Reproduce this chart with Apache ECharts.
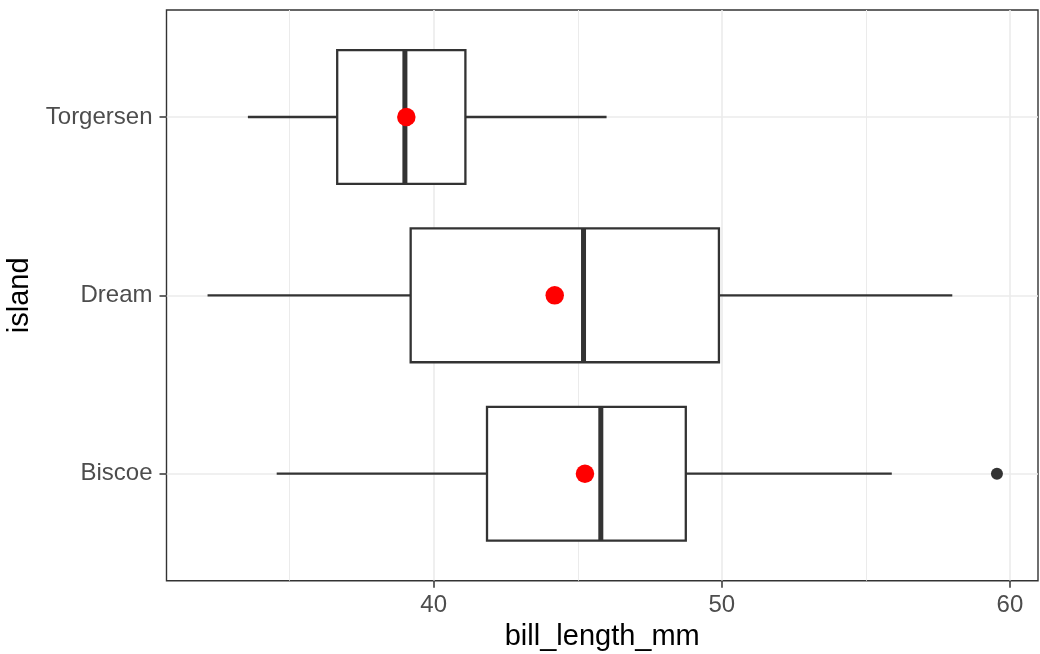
<!DOCTYPE html>
<html>
<head>
<meta charset="utf-8">
<script src="https://cdn.jsdelivr.net/npm/echarts@6/dist/echarts.min.js"></script>
<style>
html,body{margin:0;padding:0;background:#fff;}
#chart{width:1040px;height:654px;}
</style>
</head>
<body>
<div id="chart"></div>
<script>
// ---- data ----
const islands = ['Biscoe', 'Dream', 'Torgersen'];
const whiskerLow = [34.55, 32.15, 33.55];
const q1 = [41.85, 39.2, 36.65];
const median = [45.8, 45.2, 39.0];
const q3 = [48.75, 49.9, 41.1];
const whiskerHigh = [55.9, 58.0, 46.0];
const means = [45.25, 44.2, 39.05];
const outlierIsland = ['Biscoe'];
const outlierValue = [59.55];
const xTickValues = [40, 50, 60];
const xMinorValues = [35, 45, 55];
const xTitle = 'bill_length_mm';
const yTitle = 'island';

// ---- build ----
const FONT = '"Liberation Sans", Arial, sans-serif';
const yPos = name => islands.indexOf(name) + 1;
const boxData = islands.map((n, i) => [yPos(n), whiskerLow[i], q1[i], median[i], q3[i], whiskerHigh[i]]);
const meanData = islands.map((n, i) => [means[i], yPos(n)]);
const outlierData = outlierIsland.map((n, i) => [outlierValue[i], yPos(n)]);

const gridLines = []
  .concat(xMinorValues.map(v => ({ xAxis: v, lineStyle: { color: '#EBEBEB', width: 1, type: 'solid' } })))
  .concat(xTickValues.map(v => ({ xAxis: v, lineStyle: { color: '#EBEBEB', width: 1.6, type: 'solid' } })))
  .concat(islands.map(n => ({ yAxis: yPos(n), lineStyle: { color: '#EBEBEB', width: 1.6, type: 'solid' } })));

const chart = echarts.init(document.getElementById('chart'), null, { renderer: 'canvas' });
chart.setOption({
  animation: false,
  backgroundColor: '#ffffff',
  grid: { left: 166.5, right: 2, top: 10, bottom: 73.3, containLabel: false, outerBoundsMode: 'none',
    show: true, borderColor: '#333333', borderWidth: 1.4, backgroundColor: '#ffffff' },
  xAxis: {
    type: 'value', min: 30.725, max: 60.975,
    name: xTitle, nameLocation: 'middle', nameGap: 40,
    nameTextStyle: { color: '#000000', fontSize: 29, fontFamily: FONT },
    axisLine: { show: false },
    axisTick: { show: true, length: 7, customValues: xTickValues, lineStyle: { color: '#333333', width: 1.5 } },
    axisLabel: { customValues: xTickValues, margin: 13, color: '#4D4D4D', fontSize: 24, fontFamily: FONT },
    splitLine: { show: false }
  },
  yAxis: {
    type: 'value', min: 0.4, max: 3.6,
    name: yTitle, nameLocation: 'middle', nameGap: 123, nameRotate: 90,
    nameTextStyle: { color: '#000000', fontSize: 29, fontFamily: FONT },
    axisLine: { show: false },
    axisTick: { show: true, length: 7, customValues: [1, 2, 3], lineStyle: { color: '#333333', width: 1.5 } },
    axisLabel: { customValues: [1, 2, 3], margin: 14, color: '#4D4D4D', fontSize: 24, fontFamily: FONT,
      formatter: v => islands[Math.round(v) - 1] || '' },
    splitLine: { show: false }
  },
  series: [
    {
      type: 'scatter', data: [], silent: true, z: 0,
      markLine: { silent: true, z: 0, symbol: 'none', label: { show: false }, animation: false, data: gridLines }
    },
    {
      type: 'custom', z: 2, silent: true,
      encode: { x: [1, 2, 3, 4, 5], y: 0 },
      data: boxData,
      renderItem: function (params, api) {
        const y = api.value(0);
        const pMin = api.coord([api.value(1), y]);
        const pQ1 = api.coord([api.value(2), y]);
        const pMed = api.coord([api.value(3), y]);
        const pQ3 = api.coord([api.value(4), y]);
        const pMax = api.coord([api.value(5), y]);
        const half = api.size([0, 1])[1] * 0.375;
        const stroke = '#333333';
        return {
          type: 'group',
          children: [
            { type: 'line', shape: { x1: pMin[0], y1: pMin[1], x2: pQ1[0], y2: pQ1[1] }, style: { stroke: stroke, lineWidth: 2.3 } },
            { type: 'line', shape: { x1: pQ3[0], y1: pQ3[1], x2: pMax[0], y2: pMax[1] }, style: { stroke: stroke, lineWidth: 2.3 } },
            { type: 'rect', shape: { x: pQ1[0], y: pQ1[1] - half, width: pQ3[0] - pQ1[0], height: 2 * half }, style: { fill: '#ffffff', stroke: stroke, lineWidth: 2.3 } },
            { type: 'line', shape: { x1: pMed[0], y1: pMed[1] - half, x2: pMed[0], y2: pMed[1] + half }, style: { stroke: stroke, lineWidth: 5 } }
          ]
        };
      }
    },
    {
      type: 'scatter', z: 3, silent: true, data: outlierData,
      symbol: 'circle', symbolSize: 12, itemStyle: { color: '#333333', opacity: 1 }
    },
    {
      type: 'scatter', z: 4, silent: true, data: meanData,
      symbol: 'circle', symbolSize: 18.5, itemStyle: { color: '#FF0000', opacity: 1 }
    }
  ]
});
</script>
</body>
</html>
